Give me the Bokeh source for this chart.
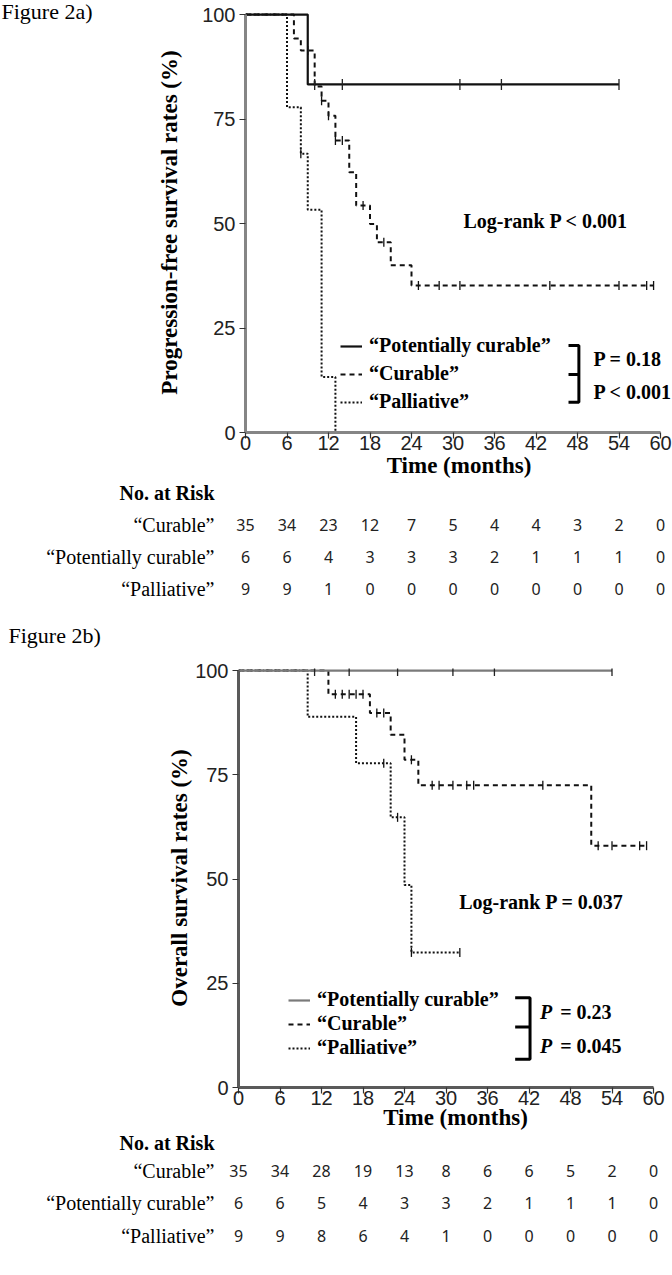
import numpy as np
from bokeh.plotting import figure
from bokeh.models import Range1d, Label, Legend, LegendItem, FixedTicker
from bokeh.layouts import column, row
from bokeh.embed import file_html
from bokeh.resources import INLINE
from bokeh.core.properties import value

# ---------------- data ----------------
month_ticks = [0, 6, 12, 18, 24, 30, 36, 42, 48, 54, 60]
pct_ticks = [0, 25, 50, 75, 100]
legend_names = ["\u201cPotentially curable\u201d", "\u201cCurable\u201d", "\u201cPalliative\u201d"]
risk_row_names = ["\u201cCurable\u201d", "\u201cPotentially curable\u201d", "\u201cPalliative\u201d"]

# Figure 2a: progression-free survival (step curves)
pfs_pot_time = [0, 9, 54]
pfs_pot_surv = [100, 83.3, 83.3]
pfs_pot_cens_time = [10, 14, 31, 37, 54]
pfs_pot_cens_surv = [83.3, 83.3, 83.3, 83.3, 83.3]

pfs_cur_time = [0, 7, 8, 10, 11, 12, 13, 15, 16, 18, 19, 21, 24, 59]
pfs_cur_surv = [100, 94.3, 91.4, 82.8, 79.4, 75.8, 69.9, 62.3, 54.3, 49.9, 45.5, 40.0, 35.2, 35.2]
pfs_cur_cens_time = [9, 11, 12, 13, 14, 17, 20, 25, 28, 31, 44, 54, 58, 59]
pfs_cur_cens_surv = [91.4, 79.4, 75.8, 69.9, 69.9, 54.3, 45.5, 35.2, 35.2, 35.2, 35.2, 35.2, 35.2, 35.2]

pfs_pal_time = [0, 6, 8, 9, 11, 13]
pfs_pal_surv = [100, 77.8, 66.7, 53.3, 13.3, 0]
pfs_pal_cens_time = [8]
pfs_pal_cens_surv = [66.7]

risk_a_curable = [35, 34, 23, 12, 7, 5, 4, 4, 3, 2, 0]
risk_a_potential = [6, 6, 4, 3, 3, 3, 2, 1, 1, 1, 0]
risk_a_palliative = [9, 9, 1, 0, 0, 0, 0, 0, 0, 0, 0]

# Figure 2b: overall survival (step curves)
os_pot_time = [0, 54]
os_pot_surv = [100, 100]
os_pot_cens_time = [11, 16, 23, 31, 37, 54]
os_pot_cens_surv = [100, 100, 100, 100, 100, 100]

os_cur_time = [0, 13, 19, 22, 24, 26, 51, 59]
os_cur_surv = [100, 94.3, 89.8, 84.6, 78.6, 72.5, 58.0, 58.0]
os_cur_cens_time = [14, 15, 16, 17, 18, 20, 21, 25, 28, 29, 31, 33, 34, 44, 52, 54, 58, 59]
os_cur_cens_surv = [94.3, 94.3, 94.3, 94.3, 94.3, 89.8, 89.8, 78.6, 72.5, 72.5, 72.5, 72.5, 72.5, 72.5,
                    58.0, 58.0, 58.0, 58.0]

os_pal_time = [0, 10, 17, 22, 24, 25, 32]
os_pal_surv = [100, 88.9, 77.8, 64.8, 48.6, 32.4, 32.4]
os_pal_cens_time = [21, 23, 25, 32]
os_pal_cens_surv = [77.8, 64.8, 32.4, 32.4]

risk_b_curable = [35, 34, 28, 19, 13, 8, 6, 6, 5, 2, 0]
risk_b_potential = [6, 6, 5, 4, 3, 3, 2, 1, 1, 1, 0]
risk_b_palliative = [9, 9, 8, 6, 4, 1, 0, 0, 0, 0, 0]

# ---------------- layout constants ----------------
W = 672
PXM = 415 / 60.0          # pixels per month on the time axis
Y_MAX = 100.5
SERIF = "Liberation Serif"
SANS = "Liberation Sans"


def km_panel(frame_left, canvas_left, b_top, ppp, axis_color, axis_width, ytitle,
             ytitle_standoff, xtitle_standoff):
    frame_w = W - frame_left
    frame_h = int(round(ppp * Y_MAX))
    p = figure(frame_width=frame_w, frame_height=frame_h,
               x_range=Range1d(0, frame_w / PXM), y_range=Range1d(0, Y_MAX),
               output_backend="svg", toolbar_location=None, frame_align=False,
               min_border_top=b_top, min_border_left=frame_left - canvas_left,
               min_border_right=0, min_border_bottom=0)
    p.grid.visible = False
    p.outline_line_color = None
    p.background_fill_color = "white"
    p.border_fill_color = "white"
    p.xaxis.ticker = FixedTicker(ticks=month_ticks)
    p.yaxis.ticker = FixedTicker(ticks=pct_ticks)
    p.xaxis.bounds = (0, 60)
    p.yaxis.bounds = (0, 100)
    for ax in (p.xaxis[0], p.yaxis[0]):
        ax.axis_line_color = axis_color
        ax.axis_line_width = axis_width
        ax.major_tick_line_color = "#333333"
        ax.major_tick_line_width = 1.2
        ax.major_tick_out = 6
        ax.major_tick_in = 0
        ax.minor_tick_line_color = None
        ax.major_label_text_font = SANS
        ax.major_label_text_font_size = "20px"
        ax.major_label_text_color = "#222222"
        ax.axis_label_text_font = SERIF
        ax.axis_label_text_font_style = "bold"
        ax.axis_label_text_font_size = "23px"
        ax.axis_label_text_color = "black"
    p.xaxis.major_label_standoff = -3
    p.yaxis.major_label_standoff = 4
    p.xaxis.axis_label = "Time (months)"
    p.yaxis.axis_label = ytitle
    p.xaxis.axis_label_standoff = xtitle_standoff
    p.yaxis.axis_label_standoff = ytitle_standoff
    return p


def add_curves(p, pot, cur, pal, pot_color):
    r_pal = p.step(pal[0], pal[1], mode="after", line_color="#111111", line_width=2,
                   line_dash="2 2")
    p.scatter(pal[2], pal[3], marker="dash", angle=np.pi / 2, size=9,
              line_color="#111111", line_width=1.3)
    r_cur = p.step(cur[0], cur[1], mode="after", line_color="#111111", line_width=2,
                   line_dash="5 4")
    p.scatter(cur[2], cur[3], marker="dash", angle=np.pi / 2, size=9,
              line_color="#111111", line_width=1.3)
    r_pot = p.step(pot[0], pot[1], mode="after", line_color=pot_color, line_width=2.2)
    p.scatter(pot[2], pot[3], marker="dash", angle=np.pi / 2, size=11,
              line_color="#222222", line_width=1.3)
    return r_pot, r_cur, r_pal


def add_legend(p, renderers, vx, vy, spacing):
    items = [LegendItem(label=n, renderers=[r]) for n, r in zip(legend_names, renderers)]
    lg = Legend(items=items, location=(vx, vy), label_text_font=SERIF,
                label_text_font_style="bold", label_text_font_size="20px",
                label_text_color="black", glyph_width=22, glyph_height=18, label_height=18,
                label_standoff=7, spacing=spacing, padding=0, margin=0,
                border_line_color=None, background_fill_alpha=0)
    p.add_layout(lg)


def text_label(p, x, y, text, size="20px", style="bold", align="left", x_units="data"):
    p.add_layout(Label(x=x, y=y, x_units=x_units, text=text, text_font=SERIF,
                       text_font_style=style, text_font_size=size, text_color="black",
                       text_baseline="middle", text_align=align))


def blank_panel(width, height, x_range):
    f = figure(width=width, height=height, x_range=x_range, y_range=Range1d(height, 0),
               x_axis_location=None, y_axis_location=None, min_border=0,
               output_backend="svg", toolbar_location=None, frame_align=False)
    f.grid.visible = False
    f.outline_line_color = None
    return f


def risk_panel(height, frame_left, name_right, header_y, row_ys, rows):
    r = blank_panel(W, height, Range1d(-frame_left / PXM, (W - frame_left) / PXM))
    text_label(r, name_right, header_y, "No. at Risk", align="right", x_units="screen")
    for name, vals, yy in zip(risk_row_names, rows, row_ys):
        text_label(r, name_right, yy, name, style="normal", align="right", x_units="screen")
        r.text(x=month_ticks, y=[yy] * len(month_ticks), text=[str(v) for v in vals],
               text_align="center", text_baseline="middle", text_font=value("Noto Sans"),
               text_font_size="16px", text_color="#222222")
    return r


# ---------------- Figure 2a ----------------
A_LEFT, A_PPP, LAB_W = 245, 4.18, 120
lab_a = blank_panel(LAB_W, 40, Range1d(0, LAB_W))
text_label(lab_a, 1, 11, "Figure 2a)", size="22px", style="normal")

pa = km_panel(A_LEFT, LAB_W, 12, A_PPP, "#858585", 3,
              "Progression-free survival rates (%)", 17, 0)
ra = add_curves(pa,
                (pfs_pot_time, pfs_pot_surv, pfs_pot_cens_time, pfs_pot_cens_surv),
                (pfs_cur_time, pfs_cur_surv, pfs_cur_cens_time, pfs_cur_cens_surv),
                (pfs_pal_time, pfs_pal_surv, pfs_pal_cens_time, pfs_pal_cens_surv),
                "#111111")
add_legend(pa, ra, 95, 19, 5)
pa.multi_line(xs=[[46.7, 48.2, 48.2, 46.7], [46.7, 48.2]],
              ys=[[20.8, 20.8, 7.25, 7.25], [13.9, 13.9]], line_color="black", line_width=3)
text_label(pa, 50.3, 17.6, "P = 0.18")
text_label(pa, 50.3, 9.6, "P < 0.001")
text_label(pa, 31.5, 50.7, "Log-rank P < 0.001")

# risk table 2a (also carries the "Figure 2b)" caption at its bottom)
risk_a = risk_panel(173, A_LEFT, 214, 12, [44, 76, 108],
                    [risk_a_curable, risk_a_potential, risk_a_palliative])
text_label(risk_a, 8, 155, "Figure 2b)", size="22px", style="normal", x_units="screen")

# ---------------- Figure 2b ----------------
B_LEFT, B_PPP = 238, 4.17
pb = km_panel(B_LEFT, 0, 15, B_PPP, "#5a5a5a", 3, "Overall survival rates (%)", 0, -3)
rb = add_curves(pb,
                (os_pot_time, os_pot_surv, os_pot_cens_time, os_pot_cens_surv),
                (os_cur_time, os_cur_surv, os_cur_cens_time, os_cur_cens_surv),
                (os_pal_time, os_pal_surv, os_pal_cens_time, os_pal_cens_surv),
                "#7a7a7a")
add_legend(pb, rb, 50, 28, 1)
pb.multi_line(xs=[[40.0, 42.15, 42.15, 40.0], [40.0, 42.15]],
              ys=[[21.5, 21.5, 6.8, 6.8], [14.5, 14.5]], line_color="black", line_width=3)
text_label(pb, 43.6, 18.0, "P", style="bold italic")
text_label(pb, 46.5, 18.0, "= 0.23")
text_label(pb, 43.6, 9.9, "P", style="bold italic")
text_label(pb, 46.5, 9.9, "= 0.045")
text_label(pb, 31.9, 44.5, "Log-rank P = 0.037")

risk_b = risk_panel(140, B_LEFT, 214, 10, [38, 70, 103],
                    [risk_b_curable, risk_b_potential, risk_b_palliative])

layout = column(row(lab_a, pa), risk_a, pb, risk_b)
open("out.html", "w").write(file_html(layout, INLINE))
